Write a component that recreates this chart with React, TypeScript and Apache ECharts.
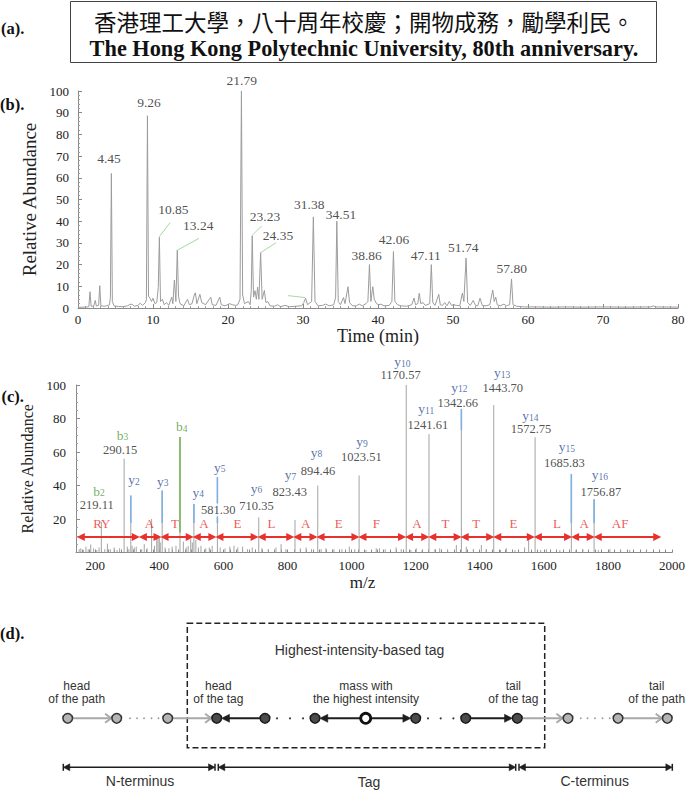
import React, { useEffect, useRef } from "react";
import * as echarts from "echarts";

const SERIF = '"Liberation Serif", "Times New Roman", serif';
const SANS = '"Liberation Sans", Arial, sans-serif';
const CJK = '"Noto Sans CJK TC", "Noto Sans CJK SC", sans-serif';

// ---------------- (a) title ----------------
const titleZh = "香港理工大學，八十周年校慶；開物成務，勵學利民。";
const titleEn = "The Hong Kong Polytechnic University, 80th anniversary.";

// ---------------- (b) chromatogram ----------------
const chromatogram: [number, number][] = [
  [0, 0.3], [1.0, 0.4], [1.45, 0.6], [1.6, 7.5], [1.75, 0.8], [2.1, 0.9], [2.3, 3.5], [2.45, 0.9], [2.75, 1.2], [2.9, 10.3], [3.05, 1.0],
  [3.6, 0.8], [4.2, 1.5], [4.32, 5], [4.45, 62], [4.58, 3], [4.8, 1], [5.4, 0.7], [6.0, 0.6], [6.6, 1], [6.9, 1.6], [7.2, 1.8], [7.5, 0.8],
  [8.0, 1.2], [8.3, 2.2], [8.6, 1.2], [9.0, 2.5], [9.12, 4], [9.26, 88.6], [9.4, 5.5], [9.6, 4.5], [9.8, 3], [10.0, 4.5], [10.25, 2],
  [10.5, 2.5], [10.7, 9.5], [10.85, 32.6], [11.0, 3], [11.25, 4], [11.5, 1.5], [11.8, 2.5], [12.1, 1.2], [12.5, 5], [12.65, 2], [12.85, 12.9],
  [13.05, 3], [13.24, 26.7], [13.4, 5.5], [13.6, 2], [14.1, 1], [14.6, 4], [14.85, 1.5], [15.2, 2], [15.5, 6], [15.65, 7], [15.85, 2],
  [16.25, 6.3], [16.5, 2.5], [17.0, 1.5], [17.7, 5], [17.9, 1.5], [18.4, 1.2], [18.9, 5], [19.1, 1.5], [19.6, 1], [20.2, 2], [20.6, 1.5],
  [21.0, 1.2], [21.3, 1.5], [21.6, 4], [21.79, 100], [21.95, 6], [22.2, 2], [22.7, 3], [22.95, 1.5], [23.1, 8], [23.23, 33.3], [23.4, 5],
  [23.6, 8], [23.78, 4], [23.95, 9.6], [24.12, 4], [24.35, 25.5], [24.55, 4], [24.85, 8.1], [25.05, 2.5], [25.3, 3], [25.6, 1], [26.2, 0.8],
  [26.6, 1.5], [27.0, 0.6], [27.6, 1.2], [28.2, 0.6], [29.0, 0.8], [29.8, 1], [30.1, 2.5], [30.35, 4.5], [30.6, 1.5], [31.15, 3], [31.38, 42],
  [31.6, 3], [32.0, 1], [32.6, 1.2], [33.0, 1.8], [33.5, 1], [34.1, 1.5], [34.35, 5], [34.51, 40], [34.7, 3], [35.0, 1.5], [35.4, 4.8],
  [35.6, 2], [36.0, 9.8], [36.2, 2.5], [36.6, 1], [37.1, 1], [37.5, 1.8], [37.9, 1], [38.4, 2], [38.65, 3], [38.86, 20], [39.05, 3],
  [39.3, 9.8], [39.5, 4], [39.8, 2], [40.1, 1.5], [40.4, 1.8], [40.8, 1], [41.5, 1.2], [41.85, 3], [42.06, 26], [42.25, 3], [42.6, 1.5],
  [43.1, 1], [43.8, 0.8], [44.5, 1.5], [44.8, 4.6], [45.0, 1.5], [45.3, 2], [45.5, 6.8], [45.7, 2], [46.0, 2.5], [46.3, 1.2], [46.9, 2],
  [47.11, 20], [47.3, 2.5], [47.6, 1.2], [48.1, 6.3], [48.3, 1.5], [48.6, 1.2], [48.9, 2.5], [49.2, 1], [49.5, 3], [49.8, 1.2], [50.1, 1.5],
  [50.5, 1.2], [50.9, 1], [51.25, 6.9], [51.45, 3], [51.74, 23], [51.95, 2.5], [52.3, 1.2], [52.7, 3.5], [53.0, 1.2], [53.3, 1], [53.6, 4.5],
  [53.9, 1.2], [54.4, 1], [54.9, 1.5], [55.3, 8.3], [55.5, 3], [55.7, 5], [55.9, 1.5], [56.3, 1], [56.8, 1.8], [57.1, 1], [57.55, 1.5],
  [57.8, 13.4], [58.0, 1.5], [58.5, 0.8], [59.5, 0.5], [61, 0.5], [63, 0.4], [65, 0.5], [67, 0.4], [70, 0.5], [73, 0.4], [76.4, 0.5],
  [76.7, 1], [77.0, 0.5], [80, 0.4],
];
const chromLabels = ["4.45", "9.26", "10.85", "13.24", "21.79", "23.23", "24.35", "31.38", "34.51", "38.86", "42.06", "47.11", "51.74", "57.80"];
const chromLabelAnchors: [number, number][] = [
  [4.13, 69.1], [9.47, 94.5], [12.71, 45.2], [16.04, 38.2], [21.83, 105], [24.93, 42.1], [26.67, 33.6],
  [30.84, 47.8], [35.07, 43.3], [38.49, 24.1], [42.13, 31.7], [46.36, 24.1], [51.37, 27.8], [57.83, 18.3],
];
// leader lines: [t0, v0, t1, v1]
const chromLeaders: [number, number, number, number][] = [
  [10.84, 32.9, 12.27, 39.3], [13.29, 26.7, 16.13, 32.1], [23.24, 33.6, 24.49, 37.8], [24.36, 25.5, 26.4, 30.1], [28.0, 5.7, 30.3, 4.8],
];

// ---------------- (c) MS/MS spectrum ----------------
const peakMz = [219.11, 290.15, 311, 376, 409, 464.5, 508, 581.3, 710.35, 823.43, 894.46, 1023.51, 1170.57, 1241.61, 1342.66, 1443.7, 1552.7, 1572.75, 1685.83, 1756.87];
const peakHeight = [18.4, 56, 34, 20, 37, 69, 29, 45, 21, 19.4, 40, 46, 100, 70.7, 85.7, 88, 10, 68.8, 46.9, 31.8];
const noiseMz = [150, 155, 163, 171, 178, 186, 195, 205, 212, 230, 238, 247, 259, 268, 276, 300, 305, 315, 322, 328, 345, 353, 362, 385, 392, 396, 400, 403, 418, 430, 440, 452, 475, 484, 490, 498, 503, 514, 522, 530, 545, 556, 565, 590, 605, 620, 633, 645, 660, 675, 690, 720, 740, 764, 780, 795, 840, 858, 875, 905, 920, 945, 970, 993, 1010, 1045, 1077, 1087, 1105, 1139, 1155, 1185, 1202, 1220, 1260, 1275, 1300, 1327, 1358, 1380, 1405, 1420, 1465, 1483, 1510, 1540, 1590, 1608, 1650, 1700, 1722, 1770, 1806, 1840, 1868, 1920];
const noiseHeight = [2, 2.5, 1.5, 3.5, 2, 4.8, 2.5, 1.5, 3, 2, 5.3, 2, 3, 1.5, 2.5, 3.5, 2, 4, 3, 3.5, 2, 5, 2.5, 4, 8, 10.4, 9, 6, 3, 2.5, 3.5, 4, 6.5, 3, 4, 8, 6, 7.5, 3, 4, 2.5, 3, 4, 3, 2.5, 3.5, 4, 3, 3.5, 2, 3, 2.5, 2, 3, 5, 2, 2.5, 3, 2, 2, 2.5, 2, 2, 3.5, 2, 1.5, 2.5, 2.5, 2, 3, 2, 1.5, 2.5, 1.5, 2, 2.5, 1.5, 4.5, 3.5, 2, 4.5, 2, 1.5, 2.5, 1.5, 3, 1.5, 2, 1.5, 1.5, 2, 1.5, 2, 1.2, 1.5, 1];
// coloured (annotated) parts of ion peaks
const ionLineMz = [311, 409, 464.5, 508, 581.3, 1342.66, 1685.83, 1756.87];
const ionLineTop = [34, 37, 69, 29, 45, 85.7, 46.9, 31.8];
const ionLineBase = [17.6, 17.6, 12, 17.6, 17.6, 73, 17.6, 17.6];
const ionLineSeries = ["y", "y", "b", "y", "y", "y", "y", "y"];
// ion names and their label anchors [m/z, abundance]
const ionNames = ["b2", "b3", "y2", "y3", "b4", "y4", "y5", "y6", "y7", "y8", "y9", "y10", "y11", "y12", "y13", "y14", "y15", "y16"];
const ionAnchors: [number, number][] = [
  [212, 36.6], [285, 70.1], [321, 43.3], [410.6, 42.5], [469.8, 75.1], [521.5, 35.9], [589, 50.9], [703.4, 38.3], [809.3, 46.3],
  [890.3, 59.8], [1032.4, 66.2], [1158.3, 114], [1233, 85.7], [1336.8, 98.6], [1469.8, 107.4], [1558, 81.7], [1672.3, 63.2], [1775, 46.3],
];
const mzTexts = ["219.11", "290.15", "581.30", "710.35", "823.43", "894.46", "1023.51", "1170.57", "1241.61", "1342.66", "1443.70", "1572.75", "1685.83", "1756.87"];
const mzAnchors: [number, number][] = [
  [205, 28.2], [277.6, 61.2], [583.8, 25.4], [703.4, 27.9], [807.2, 36.3], [895.3, 48.8], [1030.5, 57.2], [1153, 106], [1238, 76.1],
  [1331.5, 89.1], [1471.7, 98], [1560, 73.7], [1664, 53.6], [1778, 36.3],
];
const segmentBounds = [144, 337.7, 405.3, 505.9, 576.6, 708.4, 819.6, 892.2, 1023, 1168.5, 1241, 1342, 1443.6, 1570.4, 1686.6, 1757.3, 1965];
const residues = ["RY", "A", "T", "A", "E", "L", "A", "E", "F", "A", "T", "T", "E", "L", "A", "AF"];
const residueMz = [220.6, 368.8, 449, 539, 644, 750, 857, 960, 1077, 1204, 1293, 1389, 1505, 1641, 1726, 1838];
const residueLevel = 17.6;
const arrowLevel = 9.25;

const RED = "#e8302c";
const BLUE_LINE = "#7fb2e2";
const GREEN_LINE = "#76b85a";
const BLUE_TEXT = "#2d4f95";
const GREEN_TEXT = "#4f9a3c";

function buildGraphic() {
  const els: any[] = [];
  const T = (x: number, y: number, text: string, o: any = {}) =>
    els.push({
      type: "text", x, y, silent: true, z: 50,
      style: {
        text, fill: o.fill || "#222", fontSize: o.size || 12, fontFamily: o.family || SANS,
        fontWeight: o.weight || "normal", textAlign: o.align || "center", textVerticalAlign: "middle",
        align: o.align || "center", verticalAlign: "middle", lineHeight: o.lh || undefined,
      },
    });
  const L = (x1: number, y1: number, x2: number, y2: number, stroke: string, w: number, dash?: number[]) =>
    els.push({ type: "line", silent: true, z: 50, shape: { x1, y1, x2, y2 }, style: { stroke, lineWidth: w, lineDash: dash } });
  const P = (pts: number[][], fill: string) =>
    els.push({ type: "polygon", silent: true, z: 51, shape: { points: pts }, style: { fill, stroke: fill, lineWidth: 0.5 } });
  const PL = (pts: number[][], stroke: string, w: number) =>
    els.push({ type: "polyline", silent: true, z: 51, shape: { points: pts }, style: { stroke, lineWidth: w, fill: "none" } });
  const C = (cx: number, cy: number, r: number, fill: string, stroke: string, w: number) =>
    els.push({ type: "circle", silent: true, z: 52, shape: { cx, cy, r }, style: { fill, stroke, lineWidth: w } });

  // panel letters
  const panel = { align: "left", family: SERIF, weight: "bold", size: 16.5, fill: "#111" };
  T(1, 28, "(a).", panel);
  T(0, 104, "(b).", panel);
  T(1.5, 396, "(c).", panel);
  T(0, 633, "(d).", panel);

  // (a) title box
  els.push({ type: "rect", silent: true, z: 49, shape: { x: 70.5, y: 1.5, width: 586, height: 61 }, style: { fill: "#fff", stroke: "#444", lineWidth: 1 } });
  T(364, 21, titleZh, { family: CJK, size: 22.5, fill: "#111" });
  T(364, 48, titleEn, { family: SERIF, weight: "bold", size: 22.3, fill: "#111" });

  // (d) diagram
  els.push({ type: "rect", silent: true, z: 49, shape: { x: 187.3, y: 623.3, width: 357.4, height: 124.4 }, style: { fill: "none", stroke: "#222", lineWidth: 1.5, lineDash: [6, 3] } });
  T(359.5, 650, "Highest-intensity-based tag", { size: 14, fill: "#333" });
  const NY = 718.3;
  const nodeX = [67.7, 116.7, 167.7, 216.7, 265, 315, 365.7, 415.7, 465.7, 517.3, 568, 618, 667.3];
  const kind = ["g", "g", "g", "d", "d", "d", "h", "d", "d", "d", "g", "g", "g"];
  const R = 4.8;
  const GREY = "#a9a9a9";
  const DARK = "#1e1e1e";
  const greyArrow = (a: number, b: number) => {
    const tip = nodeX[b] - R - 0.8;
    L(nodeX[a] + R, NY, tip, NY, GREY, 2);
    PL([[tip - 6, NY - 4.5], [tip, NY], [tip - 6, NY + 4.5]], GREY, 2);
  };
  const blackArrow = (from: number, to: number) => {
    const dir = nodeX[to] > nodeX[from] ? 1 : -1;
    const tip = nodeX[to] - dir * R;
    L(nodeX[from] + dir * R, NY, tip - dir * 6, NY, DARK, 2);
    P([[tip, NY], [tip - dir * 8, NY - 4], [tip - dir * 8, NY + 4]], DARK);
  };
  greyArrow(0, 1);
  greyArrow(2, 3);
  blackArrow(4, 3);
  blackArrow(6, 5);
  blackArrow(6, 7);
  blackArrow(8, 9);
  greyArrow(9, 10);
  greyArrow(11, 12);
  [130, 137, 144, 151.5, 158.5].forEach((x) => C(x, NY, 0.9, "#9a9a9a", "#9a9a9a", 0));
  [580.7, 587.5, 595, 602.5, 609.7].forEach((x) => C(x, NY, 0.9, "#9a9a9a", "#9a9a9a", 0));
  [277, 290, 303].forEach((x) => C(x, NY, 1, "#333", "#333", 0));
  [428, 440.7, 453.4].forEach((x) => C(x, NY, 1, "#333", "#333", 0));
  nodeX.forEach((x, i) => {
    if (kind[i] === "g") C(x, NY, R, "#b4b4b4", "#333", 1.5);
    else if (kind[i] === "d") C(x, NY, R, "#4b4b4b", "#1a1a1a", 1.5);
    else C(x, NY, 5, "#fff", "#111", 2.8);
  });
  const lab = { size: 12, fill: "#333", lh: 13.5 };
  T(76.7, 692.7, "head\nof the path", lab);
  T(218.3, 692.7, "head\nof the tag", lab);
  T(366, 692.7, "mass with\nthe highest intensity", lab);
  T(513.3, 692.7, "tail\nof the tag", lab);
  T(656.7, 692.7, "tail\nof the path", lab);

  const DY = 767.3;
  const segs = [[63.3, 215], [218.3, 515.7], [519, 672.3]];
  segs.forEach(([x1, x2]) => {
    L(x1 + 5, DY, x2 - 5, DY, DARK, 1.5);
    L(x1, DY - 3.5, x1, DY + 3.5, DARK, 1.5);
    L(x2, DY - 3.5, x2, DY + 3.5, DARK, 1.5);
    P([[x1, DY], [x1 + 6.5, DY - 3.5], [x1 + 6.5, DY + 3.5]], DARK);
    P([[x2, DY], [x2 - 6.5, DY - 3.5], [x2 - 6.5, DY + 3.5]], DARK);
  });
  T(140, 781, "N-terminus", { size: 14, fill: "#333" });
  T(369, 782, "Tag", { size: 14, fill: "#333" });
  T(594.7, 781, "C-terminus", { size: 14, fill: "#333" });
  return els;
}

function buildOption() {
  const axisCommon = {
    axisLine: { show: true, lineStyle: { color: "#8a8a8a", width: 1 } },
    axisTick: { show: true, inside: true, length: 4, lineStyle: { color: "#8a8a8a" } },
    minorTick: { show: true, length: 2, lineStyle: { color: "#a0a0a0" } },
    splitLine: { show: false },
  };
  const labelStyle = { fontFamily: SERIF, fontSize: 13, color: "#222" };

  const lineRender = (stroke: string, width: number) => (params: any, api: any) => {
    const x = api.value(0);
    const p0 = api.coord([x, 0]);
    const p1 = api.coord([x, api.value(1)]);
    return { type: "line", shape: { x1: p0[0], y1: p0[1], x2: p1[0], y2: p1[1] }, style: { stroke, lineWidth: width } };
  };

  const ionRender = (params: any, api: any) => {
    const x = api.value(0);
    const p0 = api.coord([x, api.value(1)]);
    const p1 = api.coord([x, api.value(2)]);
    const isB = ionLineSeries[params.dataIndex] === "b";
    return { type: "line", shape: { x1: p0[0], y1: p0[1], x2: p1[0], y2: p1[1] }, style: { stroke: isB ? GREEN_LINE : BLUE_LINE, lineWidth: 1.6 } };
  };

  const inset = 11;
  const arrowData = residues.map((_, i) => ({
    coords: [[segmentBounds[i] + inset, arrowLevel], [segmentBounds[i + 1] - inset, arrowLevel]],
  }));

  return {
    animation: false,
    backgroundColor: "#fff",
    graphic: { elements: buildGraphic() },
    grid: [
      { left: 78, right: 10, top: 91, bottom: 482 },
      { left: 76, right: 15, top: 385, bottom: 237.5 },
    ],
    xAxis: [
      {
        type: "value", gridIndex: 0, min: 0, max: 80, interval: 10, ...axisCommon,
        minorTick: { show: true, splitNumber: 10, length: 2, lineStyle: { color: "#a0a0a0" } },
        axisLabel: { ...labelStyle, margin: 5 },
        name: "Time (min)", nameLocation: "middle", nameGap: 16,
        nameTextStyle: { fontFamily: SERIF, fontSize: 18, color: "#222" },
      },
      {
        type: "value", gridIndex: 1, min: 140, max: 2000, interval: 20, ...axisCommon,
        axisTick: { show: true, inside: true, length: 3, lineStyle: { color: "#8a8a8a" } },
        minorTick: { show: false },
        axisLabel: {
          ...labelStyle, margin: 6,
          formatter: (v: number) => (Math.abs(v % 200) < 1e-6 ? String(v) : ""),
        },
        name: "m/z", nameLocation: "middle", nameGap: 21,
        nameTextStyle: { fontFamily: SERIF, fontSize: 17, color: "#222", padding: [0, 23, 0, 0] },
      },
    ],
    yAxis: [
      {
        type: "value", gridIndex: 0, min: 0, max: 100, interval: 10, ...axisCommon,
        minorTick: { show: true, splitNumber: 5, length: 2, lineStyle: { color: "#a0a0a0" } },
        axisLabel: { ...labelStyle, margin: 9 },
        name: "Relative Abundance", nameLocation: "middle", nameGap: 26,
        nameTextStyle: { fontFamily: SERIF, fontSize: 19, color: "#222" },
      },
      {
        type: "value", gridIndex: 1, min: 0, max: 100, interval: 20, ...axisCommon,
        minorTick: { show: true, splitNumber: 4, length: 2, lineStyle: { color: "#a0a0a0" } },
        axisLabel: { ...labelStyle, margin: 10, formatter: (v: number) => (v === 0 ? "" : String(v)) },
        name: "Relative Abundance", nameLocation: "middle", nameGap: 27,
        nameTextStyle: { fontFamily: SERIF, fontSize: 16, color: "#222" },
      },
    ],
    series: [
      {
        type: "line", xAxisIndex: 0, yAxisIndex: 0, data: chromatogram, showSymbol: false, symbol: "none",
        lineStyle: { color: "#9c9c9c", width: 1 }, silent: true, z: 2,
      },
      {
        type: "lines", coordinateSystem: "cartesian2d", xAxisIndex: 0, yAxisIndex: 0, silent: true, z: 3,
        lineStyle: { color: "#a6d9a0", width: 1, opacity: 1 },
        data: chromLeaders.map((l) => ({ coords: [[l[0], l[1]], [l[2], l[3]]] })),
      },
      {
        type: "scatter", xAxisIndex: 0, yAxisIndex: 0, clip: false, silent: true, symbolSize: 1, z: 5,
        itemStyle: { color: "rgba(0,0,0,0)" },
        label: { show: true, position: "inside", formatter: "{b}", fontFamily: SERIF, fontSize: 13.5, color: "#222" },
        data: chromLabels.map((t, i) => ({ name: t, value: chromLabelAnchors[i] })),
      },
      {
        type: "custom", xAxisIndex: 1, yAxisIndex: 1, silent: true, z: 2,
        renderItem: lineRender("#a3a3a3", 1),
        data: noiseMz.map((m, i) => [m, noiseHeight[i]]).concat(peakMz.map((m, i) => [m, peakHeight[i]])),
      },
      {
        type: "custom", xAxisIndex: 1, yAxisIndex: 1, silent: true, z: 3,
        renderItem: ionRender, encode: { x: 0, y: [1, 2] },
        data: ionLineMz.map((m, i) => [m, ionLineBase[i], ionLineTop[i]]),
      },
      {
        type: "lines", coordinateSystem: "cartesian2d", xAxisIndex: 1, yAxisIndex: 1, silent: true, z: 4,
        symbol: ["triangle", "triangle"], symbolSize: 8,
        lineStyle: { color: RED, width: 1.8, opacity: 1 }, itemStyle: { color: RED },
        data: arrowData,
      },
      {
        type: "scatter", xAxisIndex: 1, yAxisIndex: 1, clip: false, silent: true, symbolSize: 1, z: 5,
        itemStyle: { color: "rgba(0,0,0,0)" },
        label: { show: true, position: "inside", formatter: "{b}", fontFamily: SERIF, fontSize: 13, color: RED },
        data: residues.map((r, i) => ({ name: r, value: [residueMz[i], residueLevel] })),
      },
      {
        type: "scatter", xAxisIndex: 1, yAxisIndex: 1, clip: false, silent: true, symbolSize: 1, z: 6,
        itemStyle: { color: "rgba(0,0,0,0)" },
        data: ionNames.map((n, i) => {
          const col = n[0] === "b" ? GREEN_TEXT : BLUE_TEXT;
          return {
            value: ionAnchors[i],
            label: {
              show: true, position: "inside",
              formatter: `{n|${n[0]}}{s|${n.slice(1)}}`,
              rich: {
                n: { fontFamily: SERIF, fontSize: 13.5, color: col, lineHeight: 14, verticalAlign: "bottom" },
                s: { fontFamily: SERIF, fontSize: 9.5, color: col, lineHeight: 5, verticalAlign: "bottom" },
              },
            },
          };
        }),
      },
      {
        type: "scatter", xAxisIndex: 1, yAxisIndex: 1, clip: false, silent: true, symbolSize: 1, z: 6,
        itemStyle: { color: "rgba(0,0,0,0)" },
        label: { show: true, position: "inside", formatter: "{b}", fontFamily: SERIF, fontSize: 12.5, color: "#222" },
        data: mzTexts.map((t, i) => ({
          name: t,
          value: mzAnchors[i],
          label: t === "581.30" ? { backgroundColor: "#fff" } : undefined,
        })),
      },
    ],
  };
}

export default function App() {
  const ref = useRef<HTMLDivElement>(null);
  useEffect(() => {
    if (!ref.current) return;
    const chart = echarts.init(ref.current, undefined, { renderer: "svg" });
    chart.setOption(buildOption() as any);
    return () => chart.dispose();
  }, []);
  return (
    <div
      ref={ref}
      style={{ position: "absolute", left: 0, top: 0, width: 688, height: 790, background: "#fff" }}
    />
  );
}
